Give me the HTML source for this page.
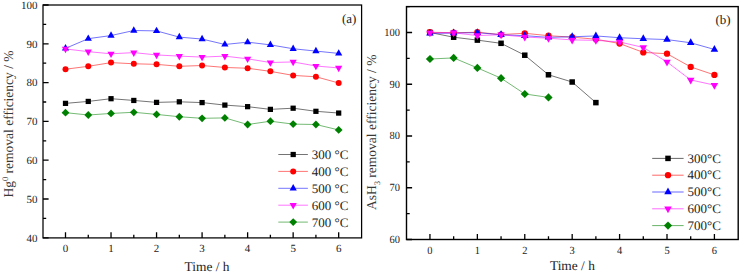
<!DOCTYPE html>
<html><head><meta charset="utf-8"><style>
html,body{margin:0;padding:0;background:#fff;width:740px;height:272px;overflow:hidden;font-family:"Liberation Serif",serif;}
svg{display:block} text{text-rendering:geometricPrecision}
</style></head><body>
<svg width="740" height="272" viewBox="0 0 740 272">
<rect width="740" height="272" fill="#fff"/>
<clipPath id="cl"><rect x="43.0" y="5.0" width="318.6" height="232.9"/></clipPath>
<clipPath id="cr"><rect x="406.5" y="6.6" width="331.70000000000005" height="232.9"/></clipPath>
<path d="M65.50 103.36L88.27 101.42L111.03 98.70L133.80 100.45L156.56 102.39L179.32 101.81L202.09 102.58L224.86 105.10L247.62 106.66L270.38 109.37L293.15 108.21L315.92 111.31L338.68 113.06" fill="none" stroke="#000000" stroke-width="0.55" clip-path="url(#cl)"/>
<path d="M65.50 69.21L88.27 66.30L111.03 62.62L133.80 63.78L156.56 64.36L179.32 66.30L202.09 65.53L224.86 67.47L247.62 68.24L270.38 71.35L293.15 75.42L315.92 76.78L338.68 82.99" fill="none" stroke="#ff0000" stroke-width="0.55" clip-path="url(#cl)"/>
<path d="M65.50 48.36L88.27 38.66L111.03 35.56L133.80 30.51L156.56 30.90L179.32 37.11L202.09 39.05L224.86 44.48L247.62 42.15L270.38 44.87L293.15 48.75L315.92 51.08L338.68 53.41" fill="none" stroke="#0000ff" stroke-width="0.55" clip-path="url(#cl)"/>
<path d="M65.50 48.94L88.27 51.65L111.03 53.79L133.80 52.62L156.56 54.95L179.32 56.12L202.09 57.09L224.86 56.12L247.62 58.83L270.38 62.52L293.15 61.94L315.92 66.01L338.68 67.95" fill="none" stroke="#ff00ff" stroke-width="0.55" clip-path="url(#cl)"/>
<path d="M65.50 112.67L88.27 115.00L111.03 113.45L133.80 112.28L156.56 114.42L179.32 116.74L202.09 118.30L224.86 117.91L247.62 124.50L270.38 121.21L293.15 124.12L315.92 124.50L338.68 129.94" fill="none" stroke="#008000" stroke-width="0.55" clip-path="url(#cl)"/>
<rect x="62.88" y="100.74" width="5.24" height="5.24" fill="#000000"/>
<rect x="85.64" y="98.80" width="5.24" height="5.24" fill="#000000"/>
<rect x="108.41" y="96.08" width="5.24" height="5.24" fill="#000000"/>
<rect x="131.18" y="97.83" width="5.24" height="5.24" fill="#000000"/>
<rect x="153.94" y="99.77" width="5.24" height="5.24" fill="#000000"/>
<rect x="176.70" y="99.19" width="5.24" height="5.24" fill="#000000"/>
<rect x="199.47" y="99.96" width="5.24" height="5.24" fill="#000000"/>
<rect x="222.24" y="102.48" width="5.24" height="5.24" fill="#000000"/>
<rect x="245.00" y="104.04" width="5.24" height="5.24" fill="#000000"/>
<rect x="267.76" y="106.75" width="5.24" height="5.24" fill="#000000"/>
<rect x="290.53" y="105.59" width="5.24" height="5.24" fill="#000000"/>
<rect x="313.30" y="108.69" width="5.24" height="5.24" fill="#000000"/>
<rect x="336.06" y="110.44" width="5.24" height="5.24" fill="#000000"/>
<circle cx="65.50" cy="69.21" r="3.00" fill="#ff0000"/>
<circle cx="88.27" cy="66.30" r="3.00" fill="#ff0000"/>
<circle cx="111.03" cy="62.62" r="3.00" fill="#ff0000"/>
<circle cx="133.80" cy="63.78" r="3.00" fill="#ff0000"/>
<circle cx="156.56" cy="64.36" r="3.00" fill="#ff0000"/>
<circle cx="179.32" cy="66.30" r="3.00" fill="#ff0000"/>
<circle cx="202.09" cy="65.53" r="3.00" fill="#ff0000"/>
<circle cx="224.86" cy="67.47" r="3.00" fill="#ff0000"/>
<circle cx="247.62" cy="68.24" r="3.00" fill="#ff0000"/>
<circle cx="270.38" cy="71.35" r="3.00" fill="#ff0000"/>
<circle cx="293.15" cy="75.42" r="3.00" fill="#ff0000"/>
<circle cx="315.92" cy="76.78" r="3.00" fill="#ff0000"/>
<circle cx="338.68" cy="82.99" r="3.00" fill="#ff0000"/>
<path d="M65.50 44.10L69.10 50.50L61.90 50.50Z" fill="#0000ff"/>
<path d="M88.27 34.40L91.86 40.80L84.67 40.80Z" fill="#0000ff"/>
<path d="M111.03 31.29L114.63 37.69L107.43 37.69Z" fill="#0000ff"/>
<path d="M133.80 26.25L137.40 32.65L130.20 32.65Z" fill="#0000ff"/>
<path d="M156.56 26.64L160.16 33.04L152.96 33.04Z" fill="#0000ff"/>
<path d="M179.32 32.84L182.92 39.24L175.72 39.24Z" fill="#0000ff"/>
<path d="M202.09 34.78L205.69 41.18L198.49 41.18Z" fill="#0000ff"/>
<path d="M224.86 40.22L228.46 46.62L221.26 46.62Z" fill="#0000ff"/>
<path d="M247.62 37.89L251.22 44.29L244.02 44.29Z" fill="#0000ff"/>
<path d="M270.38 40.60L273.99 47.00L266.78 47.00Z" fill="#0000ff"/>
<path d="M293.15 44.48L296.75 50.88L289.55 50.88Z" fill="#0000ff"/>
<path d="M315.92 46.81L319.52 53.21L312.31 53.21Z" fill="#0000ff"/>
<path d="M338.68 49.14L342.28 55.54L335.08 55.54Z" fill="#0000ff"/>
<path d="M65.50 53.20L69.10 46.80L61.90 46.80Z" fill="#ff00ff"/>
<path d="M88.27 55.92L91.86 49.52L84.67 49.52Z" fill="#ff00ff"/>
<path d="M111.03 58.05L114.63 51.65L107.43 51.65Z" fill="#ff00ff"/>
<path d="M133.80 56.89L137.40 50.49L130.20 50.49Z" fill="#ff00ff"/>
<path d="M156.56 59.22L160.16 52.82L152.96 52.82Z" fill="#ff00ff"/>
<path d="M179.32 60.38L182.92 53.98L175.72 53.98Z" fill="#ff00ff"/>
<path d="M202.09 61.35L205.69 54.95L198.49 54.95Z" fill="#ff00ff"/>
<path d="M224.86 60.38L228.46 53.98L221.26 53.98Z" fill="#ff00ff"/>
<path d="M247.62 63.10L251.22 56.70L244.02 56.70Z" fill="#ff00ff"/>
<path d="M270.38 66.78L273.99 60.38L266.78 60.38Z" fill="#ff00ff"/>
<path d="M293.15 66.20L296.75 59.80L289.55 59.80Z" fill="#ff00ff"/>
<path d="M315.92 70.28L319.52 63.88L312.31 63.88Z" fill="#ff00ff"/>
<path d="M338.68 72.22L342.28 65.82L335.08 65.82Z" fill="#ff00ff"/>
<path d="M65.50 108.77L69.40 112.67L65.50 116.57L61.60 112.67Z" fill="#008000"/>
<path d="M88.27 111.10L92.17 115.00L88.27 118.90L84.36 115.00Z" fill="#008000"/>
<path d="M111.03 109.55L114.93 113.45L111.03 117.35L107.13 113.45Z" fill="#008000"/>
<path d="M133.80 108.38L137.70 112.28L133.80 116.18L129.90 112.28Z" fill="#008000"/>
<path d="M156.56 110.52L160.46 114.42L156.56 118.32L152.66 114.42Z" fill="#008000"/>
<path d="M179.32 112.84L183.22 116.74L179.32 120.64L175.42 116.74Z" fill="#008000"/>
<path d="M202.09 114.40L205.99 118.30L202.09 122.20L198.19 118.30Z" fill="#008000"/>
<path d="M224.86 114.01L228.76 117.91L224.86 121.81L220.96 117.91Z" fill="#008000"/>
<path d="M247.62 120.60L251.52 124.50L247.62 128.40L243.72 124.50Z" fill="#008000"/>
<path d="M270.38 117.31L274.28 121.21L270.38 125.11L266.49 121.21Z" fill="#008000"/>
<path d="M293.15 120.22L297.05 124.12L293.15 128.02L289.25 124.12Z" fill="#008000"/>
<path d="M315.92 120.60L319.81 124.50L315.92 128.40L312.02 124.50Z" fill="#008000"/>
<path d="M338.68 126.04L342.58 129.94L338.68 133.84L334.78 129.94Z" fill="#008000"/>
<path d="M65.50 237.90V232.30M88.27 237.90V234.70M111.03 237.90V232.30M133.80 237.90V234.70M156.56 237.90V232.30M179.32 237.90V234.70M202.09 237.90V232.30M224.86 237.90V234.70M247.62 237.90V232.30M270.38 237.90V234.70M293.15 237.90V232.30M315.92 237.90V234.70M338.68 237.90V232.30M43.00 237.80H48.60M43.00 218.40H46.20M43.00 199.00H48.60M43.00 179.60H46.20M43.00 160.20H48.60M43.00 140.80H46.20M43.00 121.40H48.60M43.00 102.00H46.20M43.00 82.60H48.60M43.00 63.20H46.20M43.00 43.80H48.60M43.00 24.40H46.20M43.00 5.00H48.60" stroke="#000000" stroke-width="1.3" fill="none"/>
<rect x="43.0" y="5.0" width="318.60" height="232.90" fill="none" stroke="#000000" stroke-width="1.25"/>
<text x="65.50" y="251.9" font-family="'Liberation Serif', serif" font-size="11" text-anchor="middle" fill="#222">0</text>
<text x="111.03" y="251.9" font-family="'Liberation Serif', serif" font-size="11" text-anchor="middle" fill="#222">1</text>
<text x="156.56" y="251.9" font-family="'Liberation Serif', serif" font-size="11" text-anchor="middle" fill="#222">2</text>
<text x="202.09" y="251.9" font-family="'Liberation Serif', serif" font-size="11" text-anchor="middle" fill="#222">3</text>
<text x="247.62" y="251.9" font-family="'Liberation Serif', serif" font-size="11" text-anchor="middle" fill="#222">4</text>
<text x="293.15" y="251.9" font-family="'Liberation Serif', serif" font-size="11" text-anchor="middle" fill="#222">5</text>
<text x="338.68" y="251.9" font-family="'Liberation Serif', serif" font-size="11" text-anchor="middle" fill="#222">6</text>
<text x="37.6" y="241.60" font-family="'Liberation Serif', serif" font-size="11" text-anchor="end" fill="#222">40</text>
<text x="37.6" y="202.80" font-family="'Liberation Serif', serif" font-size="11" text-anchor="end" fill="#222">50</text>
<text x="37.6" y="164.00" font-family="'Liberation Serif', serif" font-size="11" text-anchor="end" fill="#222">60</text>
<text x="37.6" y="125.20" font-family="'Liberation Serif', serif" font-size="11" text-anchor="end" fill="#222">70</text>
<text x="37.6" y="86.40" font-family="'Liberation Serif', serif" font-size="11" text-anchor="end" fill="#222">80</text>
<text x="37.6" y="47.60" font-family="'Liberation Serif', serif" font-size="11" text-anchor="end" fill="#222">90</text>
<text x="37.6" y="8.80" font-family="'Liberation Serif', serif" font-size="11" text-anchor="end" fill="#222">100</text>
<text x="207.0" y="270.7" font-family="'Liberation Serif', serif" font-size="13.4" text-anchor="middle" fill="#222">Time / h</text>
<text transform="translate(13.3 124.0) rotate(-90)" font-family="'Liberation Serif', serif" font-size="13.5" text-anchor="middle" fill="#383838">Hg<tspan dy="-5.2" font-size="8.5">0</tspan><tspan dy="5.2"> removal efficiency / %</tspan></text>
<text x="356.4" y="22.8" font-family="'Liberation Serif', serif" font-size="13" text-anchor="end" fill="#222">(a)</text>
<path d="M278.3 154.50H307.9" stroke="#000000" stroke-width="0.55"/>
<rect x="290.58" y="151.88" width="5.24" height="5.24" fill="#000000"/>
<text x="311.8" y="159.10" font-family="'Liberation Serif', serif" font-size="13" fill="#222">300 °C</text>
<path d="M278.3 171.40H307.9" stroke="#ff0000" stroke-width="0.55"/>
<circle cx="293.20" cy="171.40" r="3.00" fill="#ff0000"/>
<text x="311.8" y="176.00" font-family="'Liberation Serif', serif" font-size="13" fill="#222">400 °C</text>
<path d="M278.3 188.30H307.9" stroke="#0000ff" stroke-width="0.55"/>
<path d="M293.20 184.03L296.80 190.43L289.60 190.43Z" fill="#0000ff"/>
<text x="311.8" y="192.90" font-family="'Liberation Serif', serif" font-size="13" fill="#222">500 °C</text>
<path d="M278.3 205.20H307.9" stroke="#ff00ff" stroke-width="0.55"/>
<path d="M293.20 209.47L296.80 203.07L289.60 203.07Z" fill="#ff00ff"/>
<text x="311.8" y="209.80" font-family="'Liberation Serif', serif" font-size="13" fill="#222">600 °C</text>
<path d="M278.3 222.10H307.9" stroke="#008000" stroke-width="0.55"/>
<path d="M293.20 218.20L297.10 222.10L293.20 226.00L289.30 222.10Z" fill="#008000"/>
<text x="311.8" y="226.70" font-family="'Liberation Serif', serif" font-size="13" fill="#222">700 °C</text>
<path d="M429.95 32.50L453.65 37.21L477.36 40.11L501.06 43.32L524.77 55.22L548.48 74.78L572.18 82.02L595.88 102.62" fill="none" stroke="#000000" stroke-width="0.55" clip-path="url(#cr)"/>
<path d="M429.95 32.24L453.65 32.76L477.36 32.24L501.06 34.57L524.77 33.28L548.48 35.71L572.18 37.16L595.88 39.23L619.59 43.52L643.29 52.42L667.00 53.72L690.70 66.91L714.41 74.94" fill="none" stroke="#ff0000" stroke-width="0.55" clip-path="url(#cr)"/>
<path d="M429.95 33.36L453.65 33.10L477.36 32.64L501.06 34.76L524.77 35.69L548.48 37.35L572.18 36.78L595.88 35.95L619.59 37.71L643.29 38.75L667.00 39.57L690.70 42.78L714.41 49.46" fill="none" stroke="#0000ff" stroke-width="0.55" clip-path="url(#cr)"/>
<path d="M429.95 32.88L453.65 32.78L477.36 35.57L501.06 34.74L524.77 37.02L548.48 38.21L572.18 39.92L595.88 40.33L619.59 41.94L643.29 47.47L667.00 62.01L690.70 79.92L714.41 85.15" fill="none" stroke="#ff00ff" stroke-width="0.55" clip-path="url(#cr)"/>
<path d="M429.95 59.00L453.65 57.91L477.36 67.90L501.06 78.20L524.77 93.98L548.48 97.39" fill="none" stroke="#008000" stroke-width="0.55" clip-path="url(#cr)"/>
<rect x="427.20" y="29.75" width="5.50" height="5.50" fill="#000000"/>
<rect x="450.90" y="34.46" width="5.50" height="5.50" fill="#000000"/>
<rect x="474.61" y="37.36" width="5.50" height="5.50" fill="#000000"/>
<rect x="498.31" y="40.56" width="5.50" height="5.50" fill="#000000"/>
<rect x="522.02" y="52.47" width="5.50" height="5.50" fill="#000000"/>
<rect x="545.72" y="72.03" width="5.50" height="5.50" fill="#000000"/>
<rect x="569.43" y="79.27" width="5.50" height="5.50" fill="#000000"/>
<rect x="593.13" y="99.87" width="5.50" height="5.50" fill="#000000"/>
<circle cx="429.95" cy="32.24" r="3.15" fill="#ff0000"/>
<circle cx="453.65" cy="32.76" r="3.15" fill="#ff0000"/>
<circle cx="477.36" cy="32.24" r="3.15" fill="#ff0000"/>
<circle cx="501.06" cy="34.57" r="3.15" fill="#ff0000"/>
<circle cx="524.77" cy="33.28" r="3.15" fill="#ff0000"/>
<circle cx="548.48" cy="35.71" r="3.15" fill="#ff0000"/>
<circle cx="572.18" cy="37.16" r="3.15" fill="#ff0000"/>
<circle cx="595.88" cy="39.23" r="3.15" fill="#ff0000"/>
<circle cx="619.59" cy="43.52" r="3.15" fill="#ff0000"/>
<circle cx="643.29" cy="52.42" r="3.15" fill="#ff0000"/>
<circle cx="667.00" cy="53.72" r="3.15" fill="#ff0000"/>
<circle cx="690.70" cy="66.91" r="3.15" fill="#ff0000"/>
<circle cx="714.41" cy="74.94" r="3.15" fill="#ff0000"/>
<path d="M429.95 28.88L433.73 35.60L426.17 35.60Z" fill="#0000ff"/>
<path d="M453.65 28.62L457.43 35.34L449.88 35.34Z" fill="#0000ff"/>
<path d="M477.36 28.16L481.14 34.88L473.58 34.88Z" fill="#0000ff"/>
<path d="M501.06 30.28L504.84 37.00L497.29 37.00Z" fill="#0000ff"/>
<path d="M524.77 31.21L528.55 37.93L520.99 37.93Z" fill="#0000ff"/>
<path d="M548.48 32.87L552.25 39.59L544.70 39.59Z" fill="#0000ff"/>
<path d="M572.18 32.30L575.96 39.02L568.40 39.02Z" fill="#0000ff"/>
<path d="M595.88 31.47L599.66 38.19L592.11 38.19Z" fill="#0000ff"/>
<path d="M619.59 33.23L623.37 39.95L615.81 39.95Z" fill="#0000ff"/>
<path d="M643.29 34.27L647.07 40.99L639.51 40.99Z" fill="#0000ff"/>
<path d="M667.00 35.09L670.78 41.81L663.22 41.81Z" fill="#0000ff"/>
<path d="M690.70 38.30L694.48 45.02L686.92 45.02Z" fill="#0000ff"/>
<path d="M714.41 44.98L718.19 51.70L710.63 51.70Z" fill="#0000ff"/>
<path d="M429.95 37.36L433.73 30.64L426.17 30.64Z" fill="#ff00ff"/>
<path d="M453.65 37.26L457.43 30.54L449.88 30.54Z" fill="#ff00ff"/>
<path d="M477.36 40.05L481.14 33.33L473.58 33.33Z" fill="#ff00ff"/>
<path d="M501.06 39.22L504.84 32.50L497.29 32.50Z" fill="#ff00ff"/>
<path d="M524.77 41.50L528.55 34.78L520.99 34.78Z" fill="#ff00ff"/>
<path d="M548.48 42.69L552.25 35.97L544.70 35.97Z" fill="#ff00ff"/>
<path d="M572.18 44.40L575.96 37.68L568.40 37.68Z" fill="#ff00ff"/>
<path d="M595.88 44.81L599.66 38.09L592.11 38.09Z" fill="#ff00ff"/>
<path d="M619.59 46.42L623.37 39.70L615.81 39.70Z" fill="#ff00ff"/>
<path d="M643.29 51.95L647.07 45.23L639.51 45.23Z" fill="#ff00ff"/>
<path d="M667.00 66.49L670.78 59.77L663.22 59.77Z" fill="#ff00ff"/>
<path d="M690.70 84.40L694.48 77.68L686.92 77.68Z" fill="#ff00ff"/>
<path d="M714.41 89.63L718.19 82.91L710.63 82.91Z" fill="#ff00ff"/>
<path d="M429.95 54.90L434.05 59.00L429.95 63.09L425.85 59.00Z" fill="#008000"/>
<path d="M453.65 53.81L457.75 57.91L453.65 62.00L449.56 57.91Z" fill="#008000"/>
<path d="M477.36 63.80L481.46 67.90L477.36 71.99L473.26 67.90Z" fill="#008000"/>
<path d="M501.06 74.10L505.16 78.20L501.06 82.29L496.97 78.20Z" fill="#008000"/>
<path d="M524.77 89.88L528.87 93.98L524.77 98.07L520.67 93.98Z" fill="#008000"/>
<path d="M548.48 93.30L552.57 97.39L548.48 101.49L544.38 97.39Z" fill="#008000"/>
<path d="M429.95 239.50V233.90M453.65 239.50V236.30M477.36 239.50V233.90M501.06 239.50V236.30M524.77 239.50V233.90M548.48 239.50V236.30M572.18 239.50V233.90M595.88 239.50V236.30M619.59 239.50V233.90M643.29 239.50V236.30M667.00 239.50V233.90M690.70 239.50V236.30M714.41 239.50V233.90M406.50 239.50H412.10M406.50 213.62H409.70M406.50 187.75H412.10M406.50 161.88H409.70M406.50 136.00H412.10M406.50 110.12H409.70M406.50 84.25H412.10M406.50 58.38H409.70M406.50 32.50H412.10M406.50 6.62H409.70" stroke="#000000" stroke-width="1.3" fill="none"/>
<rect x="406.5" y="6.6" width="331.70" height="232.90" fill="none" stroke="#000000" stroke-width="1.4"/>
<text transform="translate(429.95 253.5) scale(0.95 1)" font-family="'Liberation Serif', serif" font-size="11" text-anchor="middle" fill="#222">0</text>
<text transform="translate(477.36 253.5) scale(0.95 1)" font-family="'Liberation Serif', serif" font-size="11" text-anchor="middle" fill="#222">1</text>
<text transform="translate(524.77 253.5) scale(0.95 1)" font-family="'Liberation Serif', serif" font-size="11" text-anchor="middle" fill="#222">2</text>
<text transform="translate(572.18 253.5) scale(0.95 1)" font-family="'Liberation Serif', serif" font-size="11" text-anchor="middle" fill="#222">3</text>
<text transform="translate(619.59 253.5) scale(0.95 1)" font-family="'Liberation Serif', serif" font-size="11" text-anchor="middle" fill="#222">4</text>
<text transform="translate(667.00 253.5) scale(0.95 1)" font-family="'Liberation Serif', serif" font-size="11" text-anchor="middle" fill="#222">5</text>
<text transform="translate(714.41 253.5) scale(0.95 1)" font-family="'Liberation Serif', serif" font-size="11" text-anchor="middle" fill="#222">6</text>
<text transform="translate(399.9 242.90) scale(0.95 1)" font-family="'Liberation Serif', serif" font-size="11" text-anchor="end" fill="#222">60</text>
<text transform="translate(399.9 191.15) scale(0.95 1)" font-family="'Liberation Serif', serif" font-size="11" text-anchor="end" fill="#222">70</text>
<text transform="translate(399.9 139.40) scale(0.95 1)" font-family="'Liberation Serif', serif" font-size="11" text-anchor="end" fill="#222">80</text>
<text transform="translate(399.9 87.65) scale(0.95 1)" font-family="'Liberation Serif', serif" font-size="11" text-anchor="end" fill="#222">90</text>
<text transform="translate(399.9 35.90) scale(0.95 1)" font-family="'Liberation Serif', serif" font-size="11" text-anchor="end" fill="#222">100</text>
<text x="572.4" y="270.3" font-family="'Liberation Serif', serif" font-size="13.4" text-anchor="middle" fill="#222">Time / h</text>
<text transform="translate(375.7 132.3) rotate(-90)" font-family="'Liberation Serif', serif" font-size="13.5" text-anchor="middle" fill="#383838">AsH<tspan dy="4" font-size="8.5">3</tspan><tspan dy="-4"> removal efficiency / %</tspan></text>
<text x="730.6" y="23.8" font-family="'Liberation Serif', serif" font-size="13" text-anchor="end" fill="#222">(b)</text>
<path d="M652.2 158.40H683.6" stroke="#000000" stroke-width="0.6"/>
<rect x="665.25" y="155.65" width="5.50" height="5.50" fill="#000000"/>
<text x="687.5" y="162.60" font-family="'Liberation Serif', serif" font-size="13" fill="#222">300°C</text>
<path d="M652.2 175.20H683.6" stroke="#ff0000" stroke-width="0.6"/>
<circle cx="668.00" cy="175.20" r="3.15" fill="#ff0000"/>
<text x="687.5" y="179.40" font-family="'Liberation Serif', serif" font-size="13" fill="#222">400°C</text>
<path d="M652.2 192.00H683.6" stroke="#0000ff" stroke-width="0.6"/>
<path d="M668.00 187.52L671.78 194.24L664.22 194.24Z" fill="#0000ff"/>
<text x="687.5" y="196.20" font-family="'Liberation Serif', serif" font-size="13" fill="#222">500°C</text>
<path d="M652.2 208.80H683.6" stroke="#ff00ff" stroke-width="0.6"/>
<path d="M668.00 213.28L671.78 206.56L664.22 206.56Z" fill="#ff00ff"/>
<text x="687.5" y="213.00" font-family="'Liberation Serif', serif" font-size="13" fill="#222">600°C</text>
<path d="M652.2 225.60H683.6" stroke="#008000" stroke-width="0.6"/>
<path d="M668.00 221.51L672.10 225.60L668.00 229.70L663.90 225.60Z" fill="#008000"/>
<text x="687.5" y="229.80" font-family="'Liberation Serif', serif" font-size="13" fill="#222">700°C</text>
</svg>
</body></html>
